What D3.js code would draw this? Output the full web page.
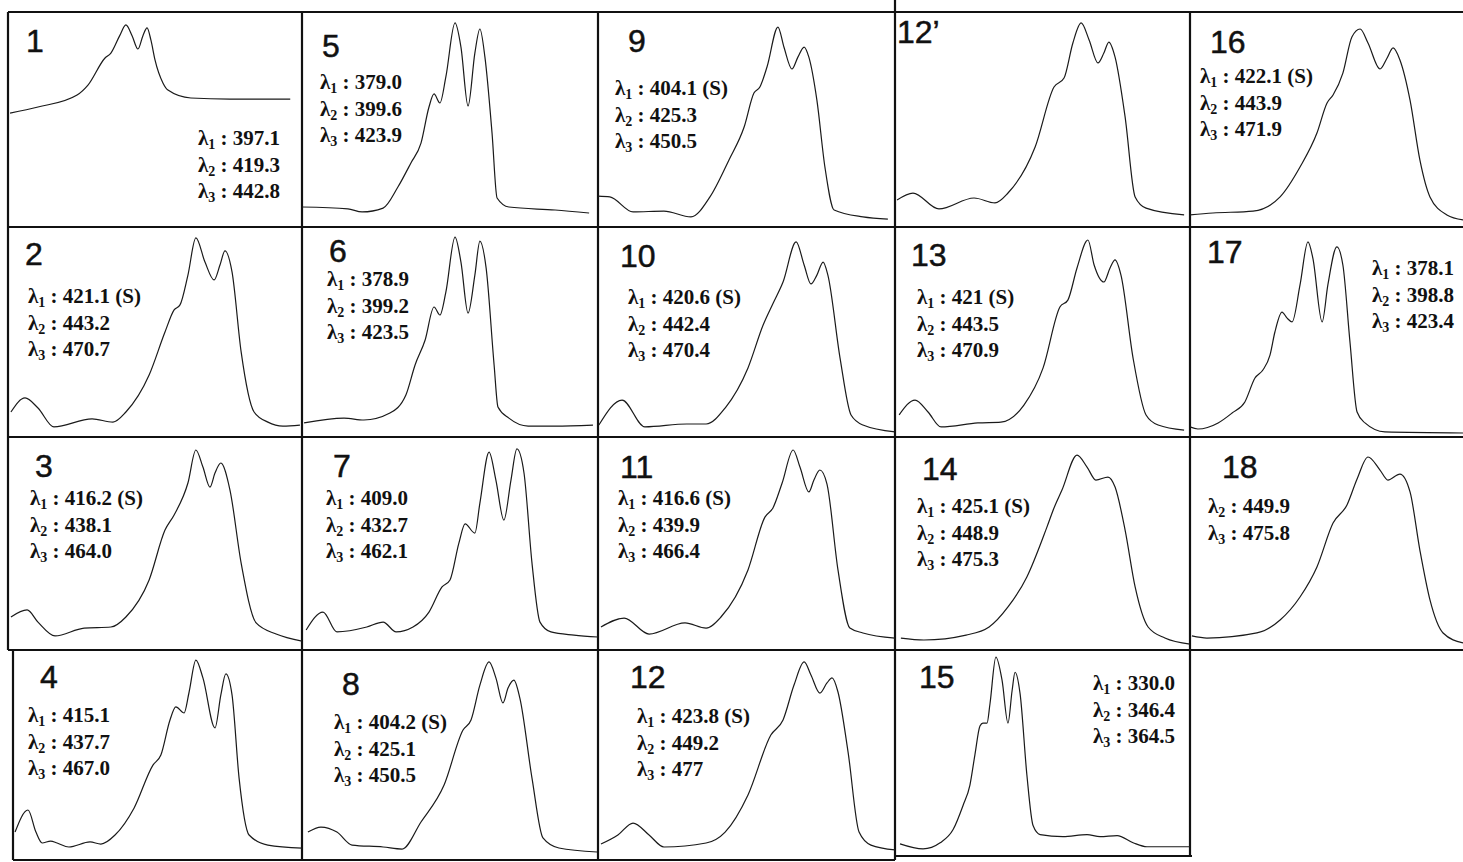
<!DOCTYPE html>
<html>
<head>
<meta charset="utf-8">
<script src="https://cdn.jsdelivr.net/npm/d3@7"></script>
<style>
  html, body { margin: 0; padding: 0; background: #fff; }
  svg { display: block; }
  .num { font-family: "Liberation Sans", Arial, sans-serif; font-size: 32px; fill: #111; stroke: #111; stroke-width: 0.5px; }
  .lam { font-family: "Liberation Serif", "Times New Roman", serif; font-size: 21px; font-weight: bold; fill: #111; }
  .frame { stroke: #111; stroke-width: 2.2; }
  .spec { fill: none; stroke: #1a1a1a; stroke-width: 1.2; }
</style>
</head>
<body>
<div id="chart"></div>
<script>
// panel names, row by row (as printed)
const panelNames = ["1", "5", "9", "12’", "16",
                    "2", "6", "10", "13", "17",
                    "3", "7", "11", "14", "18",
                    "4", "8", "12", "15"];

// absorption maxima (nm), "(S)" = shoulder
const lambda1 = ["397.1", "379.0", "404.1 (S)", null, "422.1 (S)",
                 "421.1 (S)", "378.9", "420.6 (S)", "421 (S)", "378.1",
                 "416.2 (S)", "409.0", "416.6 (S)", "425.1 (S)", null,
                 "415.1", "404.2 (S)", "423.8 (S)", "330.0"];
const lambda2 = ["419.3", "399.6", "425.3", null, "443.9",
                 "443.2", "399.2", "442.4", "443.5", "398.8",
                 "438.1", "432.7", "439.9", "448.9", "449.9",
                 "437.7", "425.1", "449.2", "346.4"];
const lambda3 = ["442.8", "423.9", "450.5", null, "471.9",
                 "470.7", "423.5", "470.4", "470.9", "423.4",
                 "464.0", "462.1", "466.4", "475.3", "475.8",
                 "467.0", "450.5", "477", "364.5"];

// spectra: [position across panel %, absorbance % of panel height]
const spec1 = [[0.7,53],[10.2,55.8],[23.5,61.4],[27.2,66],[33,78.6],[35,80.9],[38,89],[40.1,94],[42.2,89],[44.2,82.8],[45.9,89],[47.3,92.6],[48.6,87],[50,77.7],[52.7,67],[54.4,63.7],[62.2,60],[75.5,59.5],[96,59.5]];
const spec5 = [[0,9.3],[15.5,8.4],[20.3,7],[27.4,8.8],[32.4,18.6],[36.8,29.8],[40.2,39],[42.9,55.8],[44.6,61.9],[46.6,57.7],[48.6,69.8],[51.7,94.9],[53.7,83.7],[56.1,56.3],[58.4,80.9],[60.1,92.1],[61.8,79],[64.2,43.7],[65.9,13.5],[69.9,9.3],[85.5,7.9],[97,6.5]];
const spec9 = [[0,14.4],[4,14],[11.8,7],[22.2,7.4],[31.3,4.7],[37.7,14],[44.1,31.2],[49.2,46.5],[52.5,62.3],[54.5,65.1],[56.9,74.4],[60.6,93],[62.6,83.7],[65.3,73.5],[67.3,79],[69.4,83.7],[71,79],[73.7,59],[76.4,27.9],[79.5,7.9],[89.2,4.7],[97.6,3.7]];
const spec12p = [[0.7,12.6],[6.1,15.8],[14.9,8.4],[26.8,13.5],[33.9,11.2],[38.3,15.8],[47.5,37.2],[53.9,65.1],[57.3,69.3],[60.3,85.6],[63.1,94.9],[65.8,87],[68.8,76.3],[70.8,80.9],[72.5,86],[74.6,79],[78,51.2],[81.4,14],[85.1,8.8],[98,5.6]];
const spec16 = [[0,5.6],[8.4,6.5],[23.1,7.4],[33,14],[40.3,27.9],[46.5,43.7],[50.2,57.7],[52.4,61.4],[56,71.6],[59.3,88.4],[62.3,92.1],[65.2,85.6],[69.6,73.5],[72.2,78.6],[74.4,83.3],[76.9,77.7],[80.6,59],[84.2,31.2],[87.9,14],[94.1,5.6],[100,3.3]];
const spec2 = [[1,11.9],[5.8,18.6],[10.2,13.8],[15.6,4.8],[28.6,8.6],[35.7,7.1],[40.1,11.9],[48,29.5],[53.4,50],[56.5,60.5],[58.5,62.9],[61.2,77.1],[63.9,94.8],[67,83.3],[70.1,74.8],[72.1,81.9],[73.8,88.6],[76.2,78.6],[79.3,40.5],[83.7,11.9],[88.4,7.1],[93.5,5.2],[99.3,5.7]];
const spec6 = [[0.7,6.7],[14.2,9],[20.9,8.1],[29.7,11.4],[35.1,20],[38.2,34.3],[41.6,46.2],[44.6,61.9],[46.6,58.1],[48.6,69],[51.7,95.2],[53.7,83.3],[56.1,59],[58.4,77.1],[60.1,93.3],[62.2,80.5],[64.9,34.3],[66.2,14.3],[69.9,9],[76.4,5.2],[85.5,5.2],[98.3,5.7]];
const spec10 = [[0.3,5.7],[8.1,17.6],[15.8,4.8],[29.9,6.2],[36.4,6.2],[42.8,13.8],[50.5,32.9],[55.6,53.3],[59,63.8],[62.3,73.8],[66.7,92.9],[69.4,81.9],[71.7,72.9],[73.7,77.1],[75.8,83.3],[77.4,77.1],[81.5,37.6],[85.2,10.5],[89.2,5.7],[100,2.4]];
const spec13 = [[1.4,10.5],[6.8,17.6],[11.2,11.9],[15.6,4.8],[28.1,6.7],[35.9,7.1],[43.7,15.2],[50.2,32.9],[55.9,61.9],[58.6,65.2],[61.7,80.5],[65.4,93.8],[67.5,81.9],[70.8,73.8],[72.9,80.5],[74.6,84.3],[76.6,77.1],[80.7,37.6],[85.1,10.5],[89.2,5.7],[98,3.3]];
const spec17 = [[0,4.8],[2.9,3.8],[10.3,6.7],[15.4,11.4],[20.1,16.7],[23.8,28.1],[26.7,31.9],[29.3,39],[31.1,50],[33.7,59.5],[35.5,56.7],[37.4,54.8],[40.3,72.4],[43.2,92.9],[45,85.2],[48.4,54.8],[50.5,72.4],[53.8,90.5],[56,81.9],[58.6,45.2],[61.2,11.9],[64.1,6.7],[71.4,2.4],[100,1.9]];
const spec3 = [[1,15.5],[6.5,18.8],[10.2,13.1],[16,6.6],[25.9,10.3],[35,10.8],[40.1,15.5],[48,32.9],[53.4,56.3],[56.5,63.4],[61.2,78.4],[63.9,93.9],[66.3,85.9],[68.7,76.5],[70.4,83.1],[72.4,87.8],[75.5,75.1],[79.3,40.8],[84.4,12.7],[91.2,7.5],[100,4.2]];
const spec7 = [[1.4,9.4],[7.1,17.8],[11.8,8.5],[21.9,10.8],[27.4,13.1],[31.8,8.5],[37.5,10.8],[42.9,17.8],[47.3,29.6],[50,32.9],[53,50.2],[55.1,59.2],[58.4,54.9],[60.1,69],[63.2,92.9],[65.5,79.8],[68.2,61],[70.6,79.8],[72.6,94.4],[75,83.1],[77.7,40.8],[80.4,13.1],[84.1,8.5],[91.9,7],[100,6.1]];
const spec11 = [[1,10.8],[8.8,15],[17.2,7.5],[29.3,12.7],[36.4,10.3],[41.4,15.5],[50.5,37.6],[56.2,62.4],[58.9,66.7],[62,78.4],[65.7,93.9],[68,85.9],[71,74.2],[72.7,79.8],[74.7,84.5],[77.1,77.9],[80.8,37.6],[84.8,10.3],[89.2,8],[100,5.6]];
const spec14 = [[2,5.6],[9.8,4.7],[24.1,7],[31.9,10.8],[38.3,20.2],[44.7,34.3],[51.5,57.7],[53.9,66.7],[56.6,75.1],[61.7,91.5],[65.1,85.9],[68.1,79.8],[72.2,81.2],[74.6,76.5],[78,56.3],[81.4,29.6],[85.8,10.8],[91.5,5.6],[100,2.8]];
const spec18 = [[0.7,6.6],[6.2,5.6],[24.5,8],[33,14.1],[40.3,24.9],[46.5,39],[52.4,59.6],[57.5,68.1],[61.2,80.3],[65.2,90.6],[69.6,84.5],[72.5,79.8],[76.9,82.6],[80.6,74.2],[84.2,46.9],[87.9,23.5],[92.7,8],[100,3.3]];
const spec4 = [[2.4,13.3],[6.8,23.8],[9.5,13.3],[11.6,8.1],[14.5,9],[16.7,8.1],[20.7,6.2],[27.9,8.6],[31.6,7.6],[36.4,11.9],[42.9,24.8],[49.3,45.2],[52,50],[55.1,66.7],[57.1,72.9],[59.9,70],[61.6,80],[63.9,95.2],[66.3,86.7],[70.4,62.9],[72.4,78.6],[74.1,88.6],[76.2,78.6],[78.6,39],[82,11.9],[88.4,7.1],[100,5.7]];
const spec8 = [[2,13.3],[6.4,15.7],[11.8,13.3],[16.9,7.1],[27.4,6.2],[33.8,5.2],[40.2,18.1],[48,35.7],[54.4,61.9],[57.1,66.7],[60.1,83.3],[63.2,94.3],[65.5,86.7],[67.9,74.8],[69.6,81.9],[71.6,85.7],[73.6,77.1],[77.7,39],[81.4,10.5],[86.8,5.7],[99.7,3.8]];
const spec12 = [[1,7.6],[6.7,11.9],[11.8,17.6],[17.2,11.9],[22.2,6.2],[36.4,8.1],[42.8,13.3],[50.5,31],[58.2,59.5],[62.3,66.7],[66,83.3],[69.4,94.3],[71.7,88.1],[74.7,79.5],[77.1,84.3],[78.8,86.7],[80.8,80],[84.2,51.4],[87.9,13.3],[91.9,7.1],[100,4.8]];
const spec15 = [[1.7,7.7],[9.5,5.3],[15.3,8.2],[19.7,14.5],[23.1,26.1],[25.4,35.7],[27.1,50.2],[28.8,63.8],[29.8,65.2],[31.2,65.2],[32.2,74.4],[34.2,96.6],[36.3,85.5],[38.3,65.2],[39.7,80.7],[40.7,89.4],[42.4,79.2],[44.7,40.6],[46.8,16.4],[49.2,12.1],[56.9,11.1],[65.1,12.1],[69.5,11.1],[75.3,11.6],[80.7,8.2],[85.4,6.3],[100,6.3]];

const spectra = [spec1, spec5, spec9, spec12p, spec16,
                 spec2, spec6, spec10, spec13, spec17,
                 spec3, spec7, spec11, spec14, spec18,
                 spec4, spec8, spec12, spec15];

// ---- layout ----
const W = 1463, H = 862;
const colEdges = [8, 302, 598, 895, 1190, 1463];
const rowEdges = [12, 227, 437, 650, 860];

// label offsets inside each panel: [dx, dy] of number and of first lambda line
const numPos = [[18,40],[20,45],[30,40],[2,31],[20,41],
                [17,38],[27,35],[22,40],[16,39],[17,36],
                [27,40],[31,40],[22,41],[27,43],[32,41],
                [32,38],[40,45],[32,38],[24,38]];
const lamPos = [[190,133],[18,77],[17,83],[0,0],[10,71],
                [20,76],[25,59],[30,77],[22,77],[182,48],
                [22,68],[24,68],[20,68],[22,76],[18,76],
                [20,72],[32,79],[39,73],[198,40]];
const lineGap = 26.5;

const svg = d3.select("#chart").append("svg")
  .attr("width", W)
  .attr("height", H);

svg.append("rect").attr("width", W).attr("height", H).attr("fill", "#fff");

// frame lines of the scanned grid
const hLines = [[12, 8, 1463], [227, 8, 1463], [437, 8, 1463], [650, 8, 1463], [860, 13, 895], [856, 895, 1192]];
const vLines = [[8, 12, 650], [13, 650, 860], [302, 12, 860], [598, 12, 860], [895, 0, 860], [1190, 12, 856]];

svg.selectAll("line.h").data(hLines).join("line")
  .attr("class", "frame h")
  .attr("x1", d => d[1]).attr("x2", d => d[2])
  .attr("y1", d => d[0]).attr("y2", d => d[0]);

svg.selectAll("line.v").data(vLines).join("line")
  .attr("class", "frame v")
  .attr("y1", d => d[1]).attr("y2", d => d[2])
  .attr("x1", d => d[0]).attr("x2", d => d[0]);

panelNames.forEach((name, i) => {
  const r = Math.floor(i / 5), c = i % 5;
  const x0 = colEdges[c], x1 = colEdges[c + 1];
  const y0 = rowEdges[r], y1 = rowEdges[r + 1];

  const x = d3.scaleLinear().domain([0, 100]).range([x0, x1]);
  const y = d3.scaleLinear().domain([0, 100]).range([y1, y0]);

  const line = d3.line()
    .x(d => x(d[0]))
    .y(d => y(d[1]))
    .curve(d3.curveMonotoneX);

  const g = svg.append("g").attr("class", "panel");

  g.append("path")
    .attr("class", "spec")
    .attr("d", line(spectra[i]));

  g.append("text")
    .attr("class", "num")
    .attr("x", x0 + numPos[i][0])
    .attr("y", y0 + numPos[i][1])
    .text(name);

  // lambda lines (skip missing ones, keep the rest stacked)
  const rows = [[1, lambda1[i]], [2, lambda2[i]], [3, lambda3[i]]].filter(d => d[1] != null);
  rows.forEach((d, k) => {
    const t = g.append("text")
      .attr("class", "lam")
      .attr("x", x0 + lamPos[i][0])
      .attr("y", y0 + lamPos[i][1] + k * lineGap);
    t.append("tspan").text("λ");
    t.append("tspan").attr("font-size", "14px").attr("dy", 4).text(d[0]);
    t.append("tspan").attr("dy", -4).text(" : " + d[1]);
  });
});
</script>
</body>
</html>
